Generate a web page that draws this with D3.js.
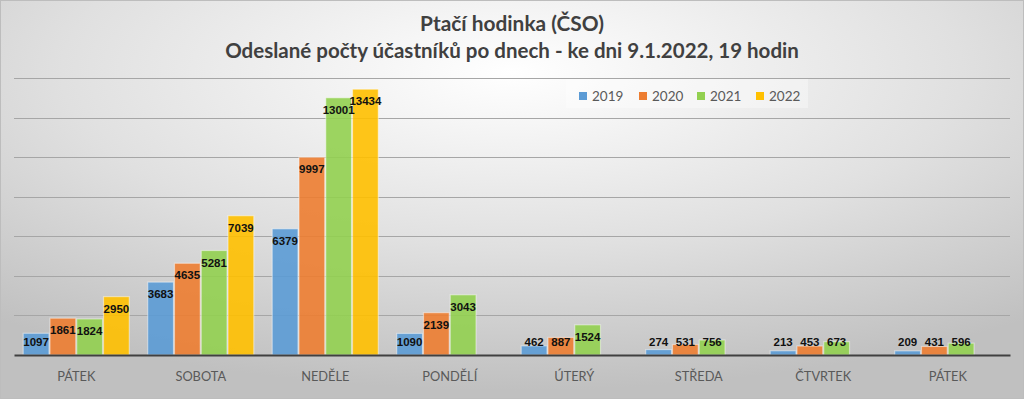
<!DOCTYPE html>
<html>
<head>
<meta charset="utf-8">
<script src="https://cdn.jsdelivr.net/npm/d3@7"></script>
<style>
  body { margin: 0; background: #fff; }
  svg { display: block; font-family: Lato, "Open Sans", sans-serif; }
  .cat-axis text { fill: #595959; font-size: 12.8px; }
  .cat-axis path { stroke: #404040; stroke-width: 2px; }
  .grid line { stroke: #a6a6a6; stroke-width: 1px; }
  .val { font-family: "Liberation Sans Narrow", sans-serif; font-weight: bold; font-size: 11.5px; fill: #111; }
</style>
</head>
<body>
<div id="chart"></div>
<script>
const size = { width: 1024, height: 399 };

const days = ['PÁTEK', 'SOBOTA', 'NEDĚLE', 'PONDĚLÍ', 'ÚTERÝ', 'STŘEDA', 'ČTVRTEK', 'PÁTEK'];
const years = ['2019', '2020', '2021', '2022'];
const values2019 = [1097, 3683, 6379, 1090, 462, 274, 213, 209];
const values2020 = [1861, 4635, 9997, 2139, 887, 531, 453, 431];
const values2021 = [1824, 5281, 13001, 3043, 1524, 756, 673, 596];
const values2022 = [2950, 7039, 13434, null, null, null, null, null];
const gridTicks = [2000, 4000, 6000, 8000, 10000, 12000, 14000];

const colors = ['#5b9bd5', '#ed7d31', '#92d050', '#ffc000'];
const series = [values2019, values2020, values2021, values2022];

const svg = d3.select('#chart')
    .append('svg')
    .attr('width', size.width)
    .attr('height', size.height);

// background gradient
const defs = svg.append('defs');
const grad = defs.append('radialGradient')
    .attr('id', 'bg')
    .attr('cx', '50%').attr('cy', '18%').attr('r', '80%');
grad.append('stop').attr('offset', '0%').attr('stop-color', '#ffffff');
grad.append('stop').attr('offset', '55%').attr('stop-color', '#e0e0e0');
grad.append('stop').attr('offset', '100%').attr('stop-color', '#c0c0c0');

svg.append('rect')
    .attr('x', 0.5).attr('y', 0.5)
    .attr('width', size.width - 1).attr('height', size.height - 1)
    .attr('fill', 'url(#bg)')
    .attr('stroke', '#bdbdbd');

// titles, font size fitted to the width seen in the picture
const titles = [
    { text: 'Ptačí hodinka (ČSO)', y: 31, width: 184 },
    { text: 'Odeslané počty účastníků po dnech - ke dni 9.1.2022, 19 hodin', y: 58, width: 574 }
];

titles.forEach(t => {
    const el = svg.append('text')
        .attr('x', 512).attr('y', t.y)
        .attr('text-anchor', 'middle')
        .attr('font-weight', 'bold')
        .attr('font-size', 18)
        .attr('fill', '#404040')
        .text(t.text);
    const w = el.node().getComputedTextLength();
    el.attr('font-size', 18 * t.width / w);
});

// scales
const x0 = d3.scaleBand()
    .domain(d3.range(days.length))
    .range([14, 1010])
    .paddingInner(0.14)
    .paddingOuter(0.07);

const x1 = d3.scaleBand()
    .domain(years)
    .range([0, x0.bandwidth()]);

const y = d3.scaleLinear()
    .domain([0, 14000])
    .range([355, 78]);

// gridlines
svg.append('g')
    .attr('class', 'grid')
    .selectAll('line')
    .data(gridTicks)
    .enter()
    .append('line')
        .attr('x1', 14).attr('x2', 1010)
        .attr('y1', d => Math.round(y(d)) + 0.5)
        .attr('y2', d => Math.round(y(d)) + 0.5);

// bars
const rows = [];
days.forEach((day, i) => {
    years.forEach((yr, j) => {
        if (series[j][i] != null) rows.push({ i, yr, j, v: series[j][i] });
    });
});

const bars = svg.append('g');

bars.selectAll('rect')
    .data(rows)
    .enter()
    .append('rect')
        .attr('x', d => x0(d.i) + x1(d.yr) + 0.5)
        .attr('y', d => y(d.v))
        .attr('width', x1.bandwidth() - 1)
        .attr('height', d => y(0) - y(d.v))
        .attr('fill', d => colors[d.j])
        .attr('fill-opacity', 0.9)
        .attr('stroke', '#ffffff')
        .attr('stroke-opacity', 0.45)
        .attr('stroke-width', 1.2);

bars.selectAll('text')
    .data(rows)
    .enter()
    .append('text')
        .attr('class', 'val')
        .attr('text-anchor', 'middle')
        .attr('x', d => x0(d.i) + x1(d.yr) + x1.bandwidth() / 2)
        .attr('y', d => Math.min(y(d.v) + 16, y(0) - 9))
        .text(d => d.v);

// category axis
const xAxis = d3.axisBottom(x0)
    .tickSize(0)
    .tickPadding(17)
    .tickFormat(i => days[i]);

svg.append('g')
    .attr('class', 'cat-axis')
    .attr('transform', `translate(0, ${y(0)})`)
    .call(xAxis)
    .call(g => g.selectAll('text').attr('font-family', 'Lato, sans-serif'));

// legend
const legend = svg.append('g');

legend.append('rect')
    .attr('x', 566).attr('y', 79)
    .attr('width', 242).attr('height', 29)
    .attr('fill', '#ffffff')
    .attr('fill-opacity', 0.35);

const legendX = [579, 639, 697, 756];

years.forEach((yr, j) => {
    legend.append('rect')
        .attr('x', legendX[j]).attr('y', 92)
        .attr('width', 8).attr('height', 8)
        .attr('fill', colors[j]);
    legend.append('text')
        .attr('x', legendX[j] + 13).attr('y', 101)
        .attr('font-size', 13.5)
        .attr('fill', '#595959')
        .text(yr);
});
</script>
</body>
</html>
